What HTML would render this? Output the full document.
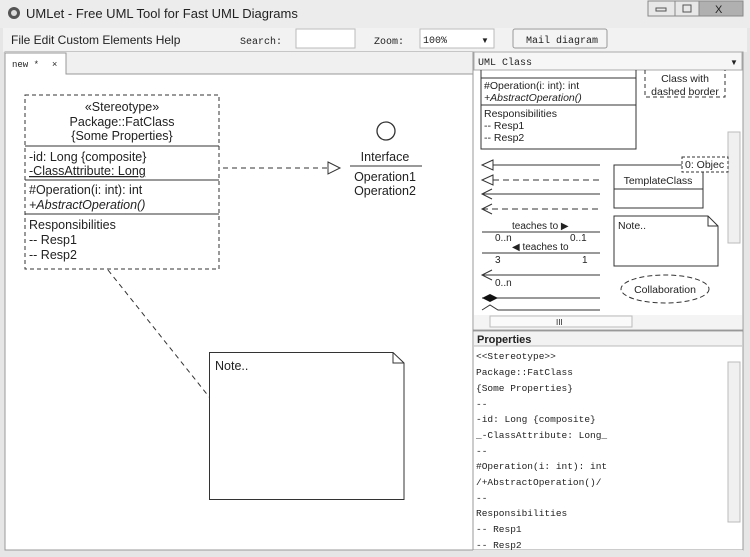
<!DOCTYPE html>
<html><head><meta charset="utf-8"><style>
html,body{margin:0;padding:0;background:#fff;width:750px;height:557px;overflow:hidden}
svg{display:block}
text{font-family:"Liberation Sans",sans-serif;fill:#222}
.m{font-family:"Liberation Mono",monospace}
</style></head><body>
<svg width="750" height="557" viewBox="0 0 750 557" xmlns="http://www.w3.org/2000/svg">
<!-- window frame -->
<rect x="0" y="0" width="750" height="557" fill="#e6e6e6"/>
<rect x="0" y="0" width="750" height="28" fill="#ececec"/>
<circle cx="14" cy="13" r="6" fill="#555"/><circle cx="14" cy="13" r="3" fill="#ddd"/>
<text x="26" y="18" font-size="13" fill="#111">UMLet - Free UML Tool for Fast UML Diagrams</text>
<rect x="648" y="1" width="27" height="15" fill="#e8e8e8" stroke="#888"/><rect x="656" y="8" width="10" height="3" fill="none" stroke="#555"/>
<rect x="675" y="1" width="24" height="15" fill="#e8e8e8" stroke="#888"/><rect x="683" y="5" width="8" height="7" fill="none" stroke="#555"/>
<rect x="699" y="1" width="44" height="15" fill="#b0b0b0" stroke="#888"/><text x="715" y="13" font-size="11" fill="#fff">X</text>
<!-- menu bar -->
<rect x="3" y="28" width="744" height="24" fill="#f2f2f2"/>
<text x="11" y="44" font-size="12" fill="#111">File  Edit  Custom Elements  Help</text>
<text x="240" y="44" font-size="10" class="m" fill="#222">Search:</text>
<rect x="296" y="29" width="59" height="19" fill="#fff" stroke="#bbb"/>
<text x="374" y="44" font-size="10" class="m" fill="#222">Zoom:</text>
<rect x="420" y="29" width="74" height="19" fill="#fff" stroke="#bbb"/>
<text x="423" y="43" font-size="10" class="m">100%</text><text x="481" y="43" font-size="8">▼</text>
<rect x="513" y="29" width="94" height="19" rx="2" fill="#f4f4f4" stroke="#999"/>
<text x="526" y="43" font-size="10" class="m">Mail diagram</text>
<!-- left pane -->
<rect x="5" y="52" width="468" height="498" fill="#fff" stroke="#999"/>
<rect x="5" y="52" width="468" height="22" fill="#f0f0f0"/>
<path d="M5 74 V53 H66 V74 H473" fill="#fff" stroke="#999"/>
<rect x="6" y="54" width="59" height="22" fill="#fff"/>
<text x="12" y="67" font-size="9" class="m">new *</text><text x="52" y="67" font-size="9">×</text>
<!-- class -->
<g fill="none" stroke="#333" stroke-dasharray="4,3">
<rect x="25" y="95" width="194" height="174"/>
</g>
<g stroke="#333"><line x1="25" y1="146" x2="219" y2="146"/><line x1="25" y1="180" x2="219" y2="180"/><line x1="25" y1="214" x2="219" y2="214"/></g>
<g font-size="12.5">
<text x="122" y="111" text-anchor="middle">«Stereotype»</text>
<text x="122" y="126" text-anchor="middle">Package::FatClass</text>
<text x="122" y="140" text-anchor="middle">{Some Properties}</text>
<text x="29" y="161">-id: Long {composite}</text>
<text x="29" y="175" text-decoration="underline">-ClassAttribute: Long</text>
<text x="29" y="194">#Operation(i: int): int</text>
<text x="29" y="209" font-style="italic">+AbstractOperation()</text>
<text x="29" y="229">Responsibilities</text>
<text x="29" y="244">-- Resp1</text>
<text x="29" y="259">-- Resp2</text>
</g>
<line x1="223" y1="168" x2="328" y2="168" stroke="#333" stroke-dasharray="5,4"/>
<path d="M328 162 L340 168 L328 174 Z" fill="#fff" stroke="#333"/>
<circle cx="386" cy="131" r="9" fill="#fff" stroke="#333" stroke-width="1.3"/>
<text x="385" y="161" font-size="12.5" text-anchor="middle">Interface</text>
<line x1="350" y1="166" x2="422" y2="166" stroke="#333"/>
<text x="385" y="181" font-size="12.5" text-anchor="middle">Operation1</text>
<text x="385" y="195" font-size="12.5" text-anchor="middle">Operation2</text>
<line x1="108" y1="270" x2="210" y2="398" stroke="#333" stroke-dasharray="5,4"/>
<path d="M209.5 352.5 H393 L404 363 V499.5 H209.5 Z" fill="#fff" stroke="#333"/>
<path d="M393 352.5 V363 H404" fill="none" stroke="#333"/>
<text x="215" y="370" font-size="12.5">Note..</text>
<!-- right pane palette -->
<rect x="473" y="52" width="270" height="278" fill="#fff" stroke="#999"/>
<rect x="474" y="52" width="268" height="18" fill="#f6f6f6" stroke="#aaa"/>
<text x="478" y="65" font-size="10" class="m">UML Class</text><text x="730" y="65" font-size="8">▼</text>
<g stroke="#333" fill="none">
<path d="M481 70 V149 H636 V70"/><line x1="481" y1="78" x2="636" y2="78"/><line x1="481" y1="105" x2="636" y2="105"/>
</g>
<g font-size="10.5">
<text x="484" y="89">#Operation(i: int): int</text>
<text x="484" y="101" font-style="italic">+AbstractOperation()</text>
<text x="484" y="117">Responsibilities</text>
<text x="484" y="129">-- Resp1</text>
<text x="484" y="141">-- Resp2</text>
<text x="685" y="82" text-anchor="middle">Class with</text>
<text x="685" y="95" text-anchor="middle">dashed border</text>
</g>
<path d="M645 70 V97 H725 V70" fill="none" stroke="#333" stroke-dasharray="4,3"/>
<rect x="728" y="132" width="12" height="111" fill="#f0f0f0" stroke="#bbb"/>
<g stroke="#333" fill="none">
<line x1="493" y1="165" x2="600" y2="165"/><path d="M493 160 L482 165 L493 170 Z"/>
<line x1="493" y1="180" x2="600" y2="180" stroke-dasharray="6,4"/><path d="M493 175 L482 180 L493 185 Z"/>
<line x1="482" y1="194" x2="600" y2="194"/><path d="M492 189 L482 194 L492 199"/>
<line x1="482" y1="209" x2="600" y2="209" stroke-dasharray="6,4"/><path d="M492 204 L482 209 L492 214"/>
<line x1="482" y1="232" x2="600" y2="232"/>
<line x1="482" y1="253" x2="600" y2="253"/>
<line x1="482" y1="275" x2="600" y2="275"/><path d="M492 270 L482 275 L492 280"/>
<line x1="482" y1="298" x2="600" y2="298"/>
<path d="M482 310 L490 305 L498 310 H600"/>
</g>
<path d="M482 298 L490 294 L498 298 L490 302 Z" fill="#111"/>
<g font-size="10">
<text x="512" y="229">teaches to ▶</text>
<text x="495" y="241">0..n</text><text x="570" y="241">0..1</text>
<text x="512" y="250">◀ teaches to</text>
<text x="495" y="263">3</text><text x="582" y="263">1</text>
<text x="495" y="286">0..n</text>
</g>
<rect x="614" y="165" width="89" height="43" fill="#fff" stroke="#333"/>
<line x1="614" y1="189" x2="703" y2="189" stroke="#333"/>
<text x="658" y="184" font-size="10.5" text-anchor="middle">TemplateClass</text>
<rect x="682" y="157" width="46" height="15" fill="#fff" stroke="#333" stroke-dasharray="3,2"/>
<text x="685" y="168" font-size="10.5">0: Objec</text>
<path d="M614 216 H708 L718 226 V266 H614 Z" fill="#fff" stroke="#333"/>
<path d="M708 216 V226 H718" fill="none" stroke="#333"/>
<text x="618" y="229" font-size="10.5">Note..</text>
<ellipse cx="665" cy="289" rx="44" ry="14" fill="none" stroke="#333" stroke-dasharray="5,3"/>
<text x="665" y="293" font-size="10.5" text-anchor="middle">Collaboration</text>
<rect x="474" y="315" width="268" height="14" fill="#f4f4f4"/>
<rect x="490" y="316" width="142" height="11" fill="#fafafa" stroke="#bbb"/>
<text x="556" y="325" font-size="8">III</text>
<!-- properties -->
<rect x="473" y="331" width="270" height="219" fill="#fff" stroke="#999"/>
<rect x="474" y="332" width="268" height="14" fill="#f2f2f2"/>
<line x1="474" y1="346" x2="742" y2="346" stroke="#bbb"/>
<text x="477" y="343" font-size="11" font-weight="bold" fill="#333">Properties</text>
<rect x="728" y="362" width="12" height="160" fill="#f0f0f0" stroke="#bbb"/>
<g font-size="9.5" class="m" fill="#333">
<text x="476" y="359" class="m">&lt;&lt;Stereotype&gt;&gt;</text>
<text x="476" y="375" class="m">Package::FatClass</text>
<text x="476" y="391" class="m">{Some Properties}</text>
<text x="476" y="407" class="m">--</text>
<text x="476" y="422" class="m">-id: Long {composite}</text>
<text x="476" y="438" class="m">_-ClassAttribute: Long_</text>
<text x="476" y="454" class="m">--</text>
<text x="476" y="469" class="m">#Operation(i: int): int</text>
<text x="476" y="485" class="m">/+AbstractOperation()/</text>
<text x="476" y="501" class="m">--</text>
<text x="476" y="516" class="m">Responsibilities</text>
<text x="476" y="532" class="m">-- Resp1</text>
<text x="476" y="548" class="m">-- Resp2</text>
</g>
<rect x="473" y="550" width="270" height="7" fill="#e6e6e6"/>
</svg>
</body></html>
